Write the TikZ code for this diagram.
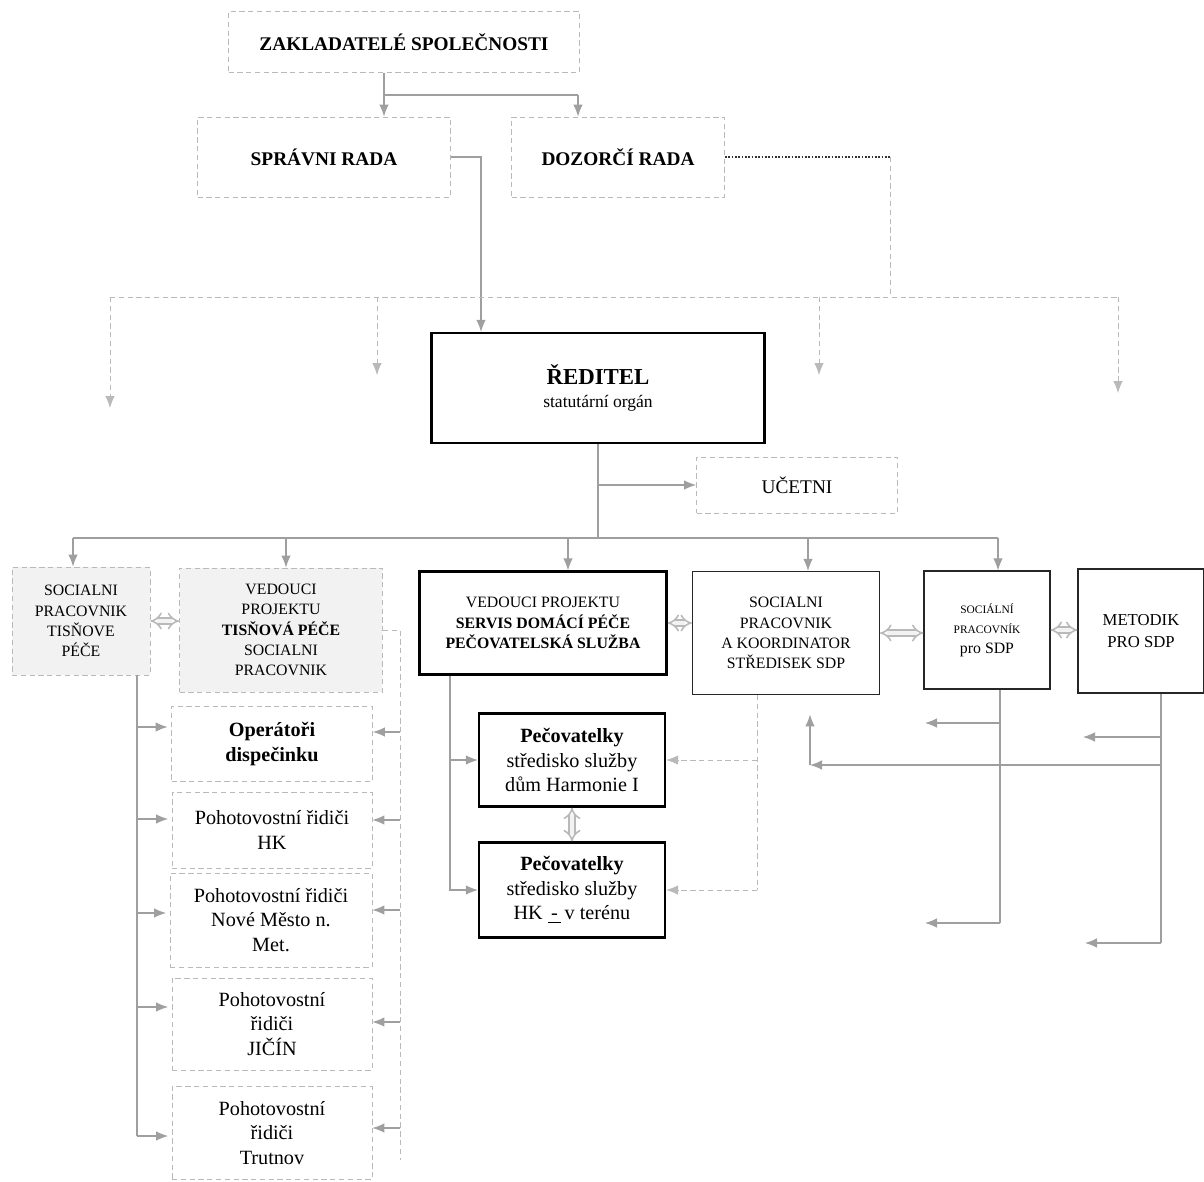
\documentclass[tikz,border=0pt]{standalone}
\usepackage{fontspec}
\setmainfont{Liberation Serif}
\usetikzlibrary{arrows.meta,calc}

\begin{document}
\begin{tikzpicture}[
    x=0.02cm, y=-0.02cm,
    box/.style ={
        rectangle,
        align=center,
        inner sep=2pt
    },
    faint/.style ={
        box,
        draw=gray!55,
        densely dashed,
        line width=0.5pt
    },
    shaded/.style ={
        faint,
        fill=gray!10
    },
    heavy/.style ={
        box,
        draw=black,
        line width=1.3pt
    },
    plain/.style ={
        box,
        draw=black!85,
        line width=0.7pt
    },
    con/.style ={
        draw=gray!75,
        line width=0.6pt,
        -{Latex[length=2.4mm,width=1.9mm]}
    },
    line/.style ={
        draw=gray!75,
        line width=0.6pt
    },
    dline/.style ={
        draw=gray!55,
        densely dashed,
        line width=0.5pt
    },
    dcon/.style ={
        dline,
        -{Latex[length=2.4mm,width=1.9mm]}
    },
    dbl/.style ={
        draw=gray!55,
        double=gray!10,
        double distance=2.4pt,
        line width=0.9pt,
        {Implies}-{Implies}
    },
    big/.style ={font=\fontsize{11}{13}\selectfont\bfseries},
    row/.style ={font=\fontsize{9}{11.5}\selectfont},
    low/.style ={font=\fontsize{11.5}{14}\selectfont}
    ]

    \useasboundingbox (0,0) rectangle (1204,1181);

    % top of the company
    \node[faint, big, minimum width=7.02cm, minimum height=1.22cm] (zak) at (404,42) {ZAKLADATELÉ SPOLEČNOSTI};
    \node[faint, big, minimum width=5.06cm, minimum height=1.6cm] (sprav) at (324,157) {SPRÁVNI RADA};
    \node[faint, big, minimum width=4.26cm, minimum height=1.6cm] (dozor) at (618,157) {DOZORČÍ RADA};
    \node[heavy, minimum width=6.66cm, minimum height=2.2cm, font=\fontsize{10}{13}\selectfont] (reditel) at (598,388)
        {{\fontsize{13}{15}\selectfont\bfseries ŘEDITEL}\\statutární orgán};
    \node[faint, minimum width=4.02cm, minimum height=1.12cm, font=\fontsize{11}{13}\selectfont] (ucetni) at (797,485) {UČETNI};

    % second row
    \node[shaded, row, minimum width=2.76cm, minimum height=2.16cm] (soctis) at (81,621)
        {SOCIALNI\\PRACOVNIK\\TISŇOVE\\PÉČE};
    \node[shaded, row, minimum width=4.06cm, minimum height=2.48cm] (vedtis) at (281,630)
        {VEDOUCI\\PROJEKTU\\\textbf{TISŇOVÁ PÉČE}\\SOCIALNI\\PRACOVNIK};
    \node[heavy, row, minimum width=4.94cm, minimum height=2.06cm] (servis) at (543,623)
        {VEDOUCI PROJEKTU\\\textbf{SERVIS DOMÁCÍ PÉČE}\\\textbf{PEČOVATELSKÁ SLUŽBA}};
    \node[plain, row, minimum width=3.74cm, minimum height=2.46cm] (sockoord) at (786,633)
        {SOCIALNI\\PRACOVNIK\\A KOORDINATOR\\STŘEDISEK SDP};
    \node[plain, row, minimum width=2.52cm, minimum height=2.36cm] (socsdp) at (987,630)
        {{\fontsize{6.5}{9}\selectfont SOCIÁLNÍ}\\{\fontsize{6.5}{9}\selectfont PRACOVNÍK}\\pro SDP};
    \node[plain, minimum width=2.52cm, minimum height=2.48cm, font=\fontsize{9.5}{12}\selectfont] (metodik) at (1141,631)
        {METODIK\\PRO SDP};

    % dispatch boxes
    \node[faint, low, minimum width=4.02cm, minimum height=1.5cm] (oper) at (272,744) {\textbf{Operátoři}\\\textbf{dispečinku}};
    \node[faint, low, minimum width=4.0cm, minimum height=1.52cm] (hk) at (272,830) {Pohotovostní řidiči\\HK};
    \node[faint, low, minimum width=4.04cm, minimum height=1.88cm] (nmm) at (271,920) {Pohotovostní řidiči\\Nové Město n.\\Met.};
    \node[faint, low, minimum width=4.0cm, minimum height=1.84cm] (jicin) at (272,1024) {Pohotovostní\\řidiči\\JIČÍN};
    \node[faint, low, minimum width=4.0cm, minimum height=1.86cm] (trut) at (272,1133) {Pohotovostní\\řidiči\\Trutnov};

    % care centres
    \node[heavy, low, minimum width=3.72cm, minimum height=1.86cm] (pec1) at (572,760) {\textbf{Pečovatelky}\\středisko služby\\dům Harmonie I};
    \node[heavy, low, minimum width=3.72cm, minimum height=1.9cm] (pec2) at (572,890) {\textbf{Pečovatelky}\\středisko služby\\HK \underline{\,-\,}\,v terénu};

    % founders to boards
    \coordinate (zx1) at (384,95);
    \coordinate (zx2) at (578,95);
    \draw[line] (zak.south -| zx1) -- (zx1) -- (zx2);
    \draw[con] (zx1) -- (sprav.north -| zx1);
    \draw[con] (zx2) -- (dozor.north -| zx2);

    % board to director
    \coordinate (sr) at (481,157);
    \draw[con] (sprav.east) -- (sr) -- (reditel.north -| sr);

    % supervisory board
    \coordinate (dz) at (890,157);
    \coordinate (dbus) at (890,297);
    \draw[densely dotted, line width=0.9pt, black!80] (dozor.east) -- (dz);
    \draw[dline] (dz) -- (dbus);
    \coordinate (bl) at (110,297);
    \coordinate (br) at (1118,297);
    \draw[dline] (bl) -- (br);
    \foreach \i/ \x/ \y in {1/110/408, 2/377/375, 3/819/375, 4/1118/393}{
        \coordinate (top\i) at (\x,297);
        \coordinate (end\i) at (\x,\y);
        \draw[dcon] (top\i) -- (end\i);
    }

    % director downwards
    \coordinate (rmid) at (598,485);
    \coordinate (rbus) at (598,538);
    \draw[line] (reditel.south) -- (rbus);
    \draw[con] (rmid) -- (ucetni.west);
    \coordinate (tsoctis) at (73,538);
    \coordinate (tsocsdp) at (998,538);
    \draw[line] (tsoctis) -- (tsocsdp);
    \foreach \dst/ \x in {soctis/73, vedtis/286, servis/568, sockoord/808, socsdp/998}{
        \coordinate (t\dst) at (\x,538);
        \draw[con] (t\dst) -- (\dst.north -| t\dst);
    }

    % double links
    \draw[dbl] (soctis.east) -- (vedtis.west |- soctis.east);
    \draw[dbl] (servis.east) -- (sockoord.west |- servis.east);
    \draw[dbl] (sockoord.east) -- (socsdp.west |- sockoord.east);
    \draw[dbl] (socsdp.east) -- (metodik.west |- socsdp.east);
    \draw[dbl] (pec1.south) -- (pec2.north);

    % emergency care, left side
    \coordinate (lx) at (137,1136);
    \draw[line] (soctis.south -| lx) -- (lx);
    \foreach \dst/ \y in {oper/727, hk/819, nmm/913, jicin/1007, trut/1136}{
        \coordinate (c) at (137,\y);
        \draw[con, shorten >=2pt] (c) -- (\dst.west |- c);
    }

    % emergency care, right side
    \coordinate (vx) at (400,630);
    \coordinate (vb) at (400,1160);
    \draw[dline] (vedtis.east |- vx) -- (vx) -- (vb);
    \foreach \dst/ \y in {oper/732, hk/820, nmm/910, jicin/1022, trut/1128}{
        \coordinate (c) at (400,\y);
        \draw[con] (c) -- (\dst.east |- c);
    }

    % home care
    \coordinate (sx) at (450,890);
    \draw[con] (servis.south -| sx) |- (pec2.west);
    \draw[con] (pec1.west -| sx) -- (pec1.west);
    \coordinate (kx) at (757,890);
    \draw[dline] (sockoord.south -| kx) -- (kx);
    \draw[dcon] (pec1.east -| kx) -- (pec1.east);
    \draw[dcon] (kx) -- (pec2.east);

    % social worker for SDP
    \coordinate (px) at (1000,723);
    \coordinate (pb) at (1000,923);
    \coordinate (s1) at (925,723);
    \coordinate (s2) at (925,923);
    \draw[line] (socsdp.south -| px) -- (pb);
    \draw[con] (px) -- (s1);
    \draw[con] (pb) -- (s2);

    % methodist
    \coordinate (mx) at (1161,737);
    \coordinate (mh) at (1161,765);
    \coordinate (mb) at (1161,943);
    \coordinate (m1) at (1083,737);
    \coordinate (m2) at (1085,943);
    \coordinate (mk) at (810,765);
    \draw[line] (metodik.south -| mx) -- (mb);
    \draw[con] (mx) -- (m1);
    \draw[con] (mb) -- (m2);
    \draw[con] (mh) -- (mk);
    \draw[con, shorten >=11pt] (mk) -- (sockoord.south -| mk);
\end{tikzpicture}
\end{document}
